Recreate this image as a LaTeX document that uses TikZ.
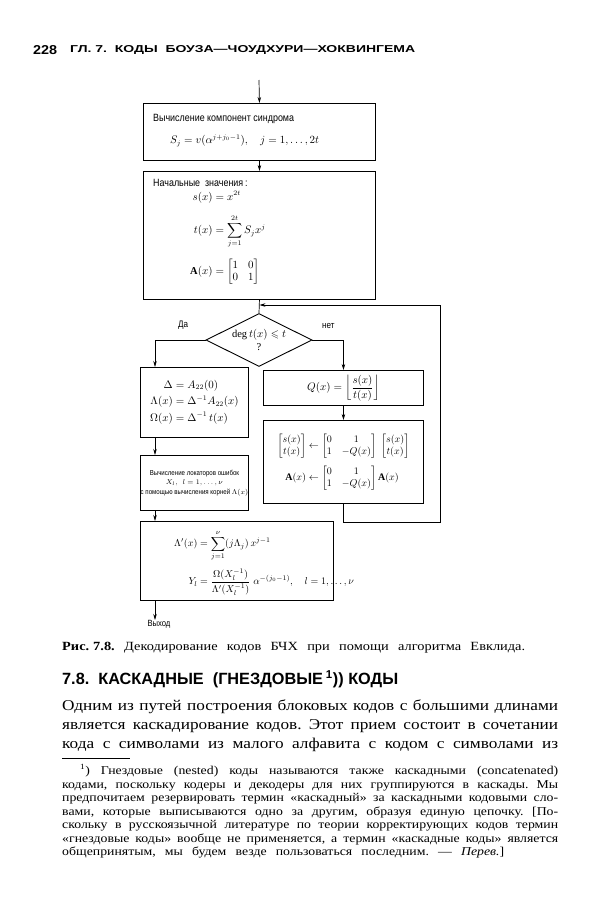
\documentclass[tikz,border=0pt]{standalone}
\usepackage{amsmath,amssymb}
\usepackage{graphicx}
\usepackage{fontspec}
\setmainfont{Liberation Serif}
\newfontfamily\bodyfont[FakeStretch=1.15]{Liberation Serif}
\newfontfamily\hdrfont{Liberation Sans}
\newfontfamily\handfont[FakeStretch=0.85]{Liberation Sans}
\usetikzlibrary{shapes.geometric,arrows.meta,calc}
\frenchspacing
\tikzset{
  box/.style={draw, line width=0.9pt, inner sep=0pt, anchor=north west},
  arr/.style={-{Stealth[length=6pt,width=3.5pt]}, line width=0.7pt},
  ln/.style={line width=0.7pt},
  txt/.style={inner sep=0pt, anchor=west, font=\handfont\fontsize{10.5}{12}\selectfont},
  mth/.style={inner sep=0pt, font=\fontsize{10.5}{12}\selectfont},
  pline/.style={inner sep=0pt, anchor=base west},
}
\begin{document}
\begin{tikzpicture}[x=1pt,y=-1pt]
\fill[white] (0,0) rectangle (612,900);
\useasboundingbox (0,0) rectangle (612,900);

% header
\node[inner sep=0pt, anchor=west] (pg) at (33,50) {\resizebox{24pt}{9pt}{\hdrfont\bfseries 228}};
\node[inner sep=0pt, anchor=west] (hd) at (70,50) {\resizebox{345pt}{7pt}{\hdrfont\bfseries ГЛ.\ 7.\ \ КОДЫ\ \ БОУЗА—ЧОУДХУРИ—ХОКВИНГЕМА}};

% boxes
\node[box, minimum width=232pt, minimum height=57pt] (b1) at (143,103) {};
\node[box, minimum width=232pt, minimum height=128pt] (b2) at (143,171) {};
\node[diamond, draw, line width=0.9pt, aspect=2, minimum width=106pt, minimum height=53pt, inner sep=0pt, align=center, font=\fontsize{10.5}{13}\selectfont] (dia) at (259,340) {$\deg t(x)\leqslant t$\\?};
\node[box, minimum width=108pt, minimum height=70pt] (l1) at (140,367) {};
\node[box, minimum width=108pt, minimum height=55pt, align=center, font=\handfont\fontsize{7.2}{9.5}\selectfont] (l2) at (140,455) {Вычисление локаторов ошибок\\ $X_l,\ \ l = 1,\ldots,\nu$\\ с помощью вычисления корней $\Lambda(x)$};
\node[box, minimum width=193pt, minimum height=79pt] (l3) at (140,521) {};
\node[box, minimum width=160pt, minimum height=35pt, font=\fontsize{10.5}{12}\selectfont] (r1) at (263,370) {$Q(x) = \left\lfloor \dfrac{s(x)}{t(x)} \right\rfloor$};
\node[box, minimum width=160pt, minimum height=83pt, font=\fontsize{10}{12}\selectfont] (r2) at (263,420) {$\begin{aligned}
 \begin{bmatrix}s(x)\\ t(x)\end{bmatrix} &\leftarrow \begin{bmatrix}0&1\\ 1&-Q(x)\end{bmatrix}\;\begin{bmatrix}s(x)\\ t(x)\end{bmatrix}\\[4pt]
 \mathbf{A}(x) &\leftarrow \begin{bmatrix}0&1\\ 1&-Q(x)\end{bmatrix}\mathbf{A}(x)
 \end{aligned}$};

% box contents
\node[txt] (b1a) at (153,119) {Вычисление компонент синдрома};
\node[mth, anchor=west] (b1b) at (170,141) {$S_j = v(\alpha^{j+j_0-1}),\quad j = 1, \ldots, 2t$};
\node[txt] (b2a) at (153,183) {Начальные\ \ значения\,:};
\node[mth, anchor=west] (b2b) at (190,238) {$\begin{aligned}
 s(x) &= x^{2t}\\[7pt]
 t(x) &= \sum_{j=1}^{2t} S_j x^j\\[7pt]
 \mathbf{A}(x) &= \begin{bmatrix}1&0\\ 0&1\end{bmatrix}
 \end{aligned}$};
\node[mth] (l1c) at (l1.center) {$\begin{aligned}
 \Delta &= A_{22}(0)\\
 \Lambda(x) &= \Delta^{-1}A_{22}(x)\\
 \Omega(x) &= \Delta^{-1}\, t(x)
 \end{aligned}$};
\node[mth, anchor=west, font=\fontsize{10}{12}\selectfont] (l3c) at (174,563) {$\begin{aligned}
 \Lambda'(x) &= \sum_{j=1}^{\nu}(j\Lambda_j)\,x^{j-1}\\[4pt]
 Y_l &= \frac{\Omega(X_l^{-1})}{\Lambda'(X_l^{-1})}\;\alpha^{-(j_0-1)},\quad l=1,\ldots,\nu
 \end{aligned}$};

% labels
\node[txt, font=\handfont\fontsize{9.5}{11}\selectfont] (yes) at (178,325) {Да};
\node[txt, font=\handfont\fontsize{9.5}{11}\selectfont] (no) at (322,326) {нет};
\node[txt, anchor=north, font=\handfont\fontsize{9}{11}\selectfont] (out) at (159,620) {Выход};

% connectors
\coordinate (top) at (259,80);
\coordinate (l1i) at ($(l1.north west)+(15,0)$);
\coordinate (l1o) at ($(l1.south west)+(15,0)$);
\coordinate (l2i) at ($(l2.north west)+(15,0)$);
\coordinate (l2o) at ($(l2.south west)+(15,0)$);
\coordinate (l3i) at ($(l3.north west)+(15,0)$);
\coordinate (l3o) at ($(l3.south west)+(15,0)$);
\coordinate (c1) at (440,522);
\coordinate (c2) at (440,305);
\coordinate (jn) at (b2.south |- c2);
\draw[arr] (top) -- (b1.north);
\draw[arr] (b1.south) -- (b2.north);
\draw[ln] (b2.south) -- (dia.north);
\draw[arr] (dia.west) -| (l1i);
\draw[arr] (dia.east) -| (r1.north);
\draw[arr] (l1o) -- (l2i);
\draw[arr] (l2o) -- (l3i);
\draw[arr] (l3o) -- (l3o |- out.north);
\draw[arr] (r1.south) -- (r2.north);
\draw[arr] (r2.south) |- (c1) -- (c2) -- (jn);

% caption and section
\node[pline] (cap) at (62,650) {\bodyfont\fontsize{12.5}{14}\selectfont\makebox[463pt][s]{\bfseries Рис.\hspace{4pt}7.8.\ \mdseries Декодирование кодов БЧХ при помощи алгоритма Евклида.}};
\node[inner sep=0pt, anchor=west] (sec) at (62,679) {\resizebox{336pt}{!}{\hdrfont\bfseries 7.8.\ \ КАСКАДНЫЕ\ \ (ГНЕЗДОВЫЕ\,\textsuperscript{1})) КОДЫ}};

% body
\node[pline] (p1) at (62,710) {\bodyfont\fontsize{15}{18}\selectfont\makebox[496pt][s]{Одним из путей построения блоковых кодов с большими длинами}};
\node[pline] (p2) at (62,729) {\bodyfont\fontsize{15}{18}\selectfont\makebox[496pt][s]{является каскадирование кодов. Этот прием состоит в сочетании}};
\node[pline] (p3) at (62,748) {\bodyfont\fontsize{15}{18}\selectfont\makebox[496pt][s]{кода с символами из малого алфавита с кодом с символами из}};

\draw[line width=0.6pt] (62,758) -- (130,758);

% footnote
\node[pline] (f1) at (80,774) {\bodyfont\fontsize{12}{14}\selectfont\makebox[478pt][s]{\textsuperscript{1}) Гнездовые (nested) коды называются также каскадными (concatenated)}};
\node[pline] (f2) at (62,788) {\bodyfont\fontsize{12}{14}\selectfont\makebox[496pt][s]{кодами, поскольку кодеры и декодеры для них группируются в каскады. Мы}};
\node[pline] (f3) at (62,801) {\bodyfont\fontsize{12}{14}\selectfont\makebox[496pt][s]{предпочитаем резервировать термин «каскадный» за каскадными кодовыми сло-}};
\node[pline] (f4) at (62,815) {\bodyfont\fontsize{12}{14}\selectfont\makebox[496pt][s]{вами, которые выписываются одно за другим, образуя единую цепочку. [По-}};
\node[pline] (f5) at (62,828) {\bodyfont\fontsize{12}{14}\selectfont\makebox[496pt][s]{скольку в русскоязычной литературе по теории корректирующих кодов термин}};
\node[pline] (f6) at (62,842) {\bodyfont\fontsize{12}{14}\selectfont\makebox[496pt][s]{«гнездовые коды» вообще не применяется, а термин «каскадные коды» является}};
\node[pline] (f7) at (62,855) {\bodyfont\fontsize{12}{14}\selectfont\makebox[442pt][s]{общепринятым, мы будем везде пользоваться последним. — \textit{Перев.}]}};
\end{tikzpicture}
\end{document}
